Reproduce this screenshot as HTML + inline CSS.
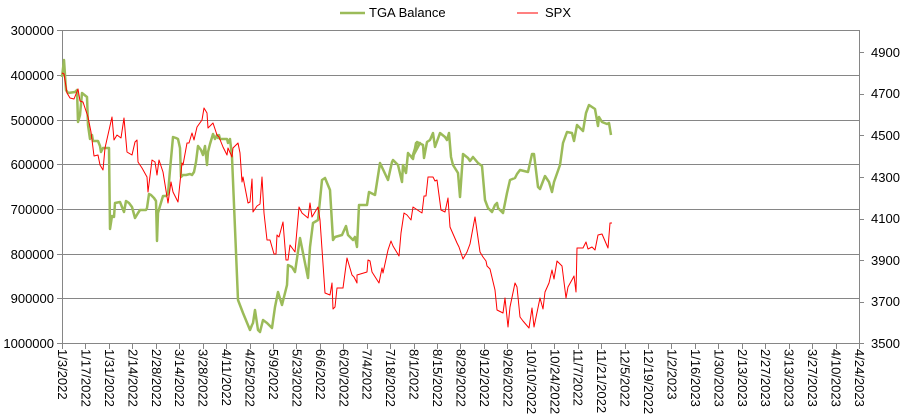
<!DOCTYPE html>
<html><head><meta charset="utf-8"><style>
body{margin:0;background:#fff;}
svg{display:block;font-family:"Liberation Sans",Tahoma,sans-serif;font-size:13px;}
</style></head><body>
<svg width="905" height="414" viewBox="0 0 905 414">
<rect width="905" height="414" fill="#fff"/>
<g stroke="#868686" stroke-width="1" shape-rendering="crispEdges">
<line x1="62" y1="30.5" x2="859" y2="30.5"/>
<line x1="62" y1="75.5" x2="859" y2="75.5"/>
<line x1="62" y1="120.5" x2="859" y2="120.5"/>
<line x1="62" y1="164.5" x2="859" y2="164.5"/>
<line x1="62" y1="209.5" x2="859" y2="209.5"/>
<line x1="62" y1="254.5" x2="859" y2="254.5"/>
<line x1="62" y1="298.5" x2="859" y2="298.5"/>
<line x1="62.5" y1="30" x2="62.5" y2="344"/>
<line x1="859.5" y1="30" x2="859.5" y2="344"/>
<line x1="57" y1="343.5" x2="859" y2="343.5"/>
<line x1="57" y1="30.5" x2="62" y2="30.5"/><line x1="57" y1="75.5" x2="62" y2="75.5"/><line x1="57" y1="120.5" x2="62" y2="120.5"/><line x1="57" y1="164.5" x2="62" y2="164.5"/><line x1="57" y1="209.5" x2="62" y2="209.5"/><line x1="57" y1="254.5" x2="62" y2="254.5"/><line x1="57" y1="298.5" x2="62" y2="298.5"/>
<line x1="859" y1="52.5" x2="864" y2="52.5"/><line x1="859" y1="94.5" x2="864" y2="94.5"/><line x1="859" y1="135.5" x2="864" y2="135.5"/><line x1="859" y1="177.5" x2="864" y2="177.5"/><line x1="859" y1="219.5" x2="864" y2="219.5"/><line x1="859" y1="260.5" x2="864" y2="260.5"/><line x1="859" y1="302.5" x2="864" y2="302.5"/><line x1="859" y1="343.5" x2="864" y2="343.5"/>
<line x1="62.5" y1="344" x2="62.5" y2="349"/><line x1="85.5" y1="344" x2="85.5" y2="349"/><line x1="109.5" y1="344" x2="109.5" y2="349"/><line x1="132.5" y1="344" x2="132.5" y2="349"/><line x1="156.5" y1="344" x2="156.5" y2="349"/><line x1="179.5" y1="344" x2="179.5" y2="349"/><line x1="203.5" y1="344" x2="203.5" y2="349"/><line x1="226.5" y1="344" x2="226.5" y2="349"/><line x1="250.5" y1="344" x2="250.5" y2="349"/><line x1="273.5" y1="344" x2="273.5" y2="349"/><line x1="296.5" y1="344" x2="296.5" y2="349"/><line x1="320.5" y1="344" x2="320.5" y2="349"/><line x1="343.5" y1="344" x2="343.5" y2="349"/><line x1="367.5" y1="344" x2="367.5" y2="349"/><line x1="390.5" y1="344" x2="390.5" y2="349"/><line x1="414.5" y1="344" x2="414.5" y2="349"/><line x1="437.5" y1="344" x2="437.5" y2="349"/><line x1="460.5" y1="344" x2="460.5" y2="349"/><line x1="484.5" y1="344" x2="484.5" y2="349"/><line x1="507.5" y1="344" x2="507.5" y2="349"/><line x1="531.5" y1="344" x2="531.5" y2="349"/><line x1="554.5" y1="344" x2="554.5" y2="349"/><line x1="578.5" y1="344" x2="578.5" y2="349"/><line x1="601.5" y1="344" x2="601.5" y2="349"/><line x1="625.5" y1="344" x2="625.5" y2="349"/><line x1="648.5" y1="344" x2="648.5" y2="349"/><line x1="671.5" y1="344" x2="671.5" y2="349"/><line x1="695.5" y1="344" x2="695.5" y2="349"/><line x1="718.5" y1="344" x2="718.5" y2="349"/><line x1="742.5" y1="344" x2="742.5" y2="349"/><line x1="765.5" y1="344" x2="765.5" y2="349"/><line x1="789.5" y1="344" x2="789.5" y2="349"/><line x1="812.5" y1="344" x2="812.5" y2="349"/><line x1="836.5" y1="344" x2="836.5" y2="349"/><line x1="859.5" y1="344" x2="859.5" y2="349"/>
</g>
<g fill="#000" text-anchor="end">
<text x="54" y="35">300000</text><text x="54" y="80">400000</text><text x="54" y="125">500000</text><text x="54" y="169">600000</text><text x="54" y="214">700000</text><text x="54" y="259">800000</text><text x="54" y="303">900000</text><text x="54" y="348">1000000</text>
</g>
<g fill="#000">
<text x="871" y="57">4900</text><text x="871" y="98">4700</text><text x="871" y="140">4500</text><text x="871" y="182">4300</text><text x="871" y="223">4100</text><text x="871" y="265">3900</text><text x="871" y="306">3700</text><text x="871" y="348">3500</text>
</g>
<g fill="#000">
<text transform="translate(58,349) rotate(90)">1/3/2022</text>
<text transform="translate(81.4,349) rotate(90)">1/17/2022</text>
<text transform="translate(104.9,349) rotate(90)">1/31/2022</text>
<text transform="translate(128.3,349) rotate(90)">2/14/2022</text>
<text transform="translate(151.8,349) rotate(90)">2/28/2022</text>
<text transform="translate(175.2,349) rotate(90)">3/14/2022</text>
<text transform="translate(198.6,349) rotate(90)">3/28/2022</text>
<text transform="translate(222.1,349) rotate(90)">4/11/2022</text>
<text transform="translate(245.5,349) rotate(90)">4/25/2022</text>
<text transform="translate(269,349) rotate(90)">5/9/2022</text>
<text transform="translate(292.4,349) rotate(90)">5/23/2022</text>
<text transform="translate(315.9,349) rotate(90)">6/6/2022</text>
<text transform="translate(339.3,349) rotate(90)">6/20/2022</text>
<text transform="translate(362.7,349) rotate(90)">7/4/2022</text>
<text transform="translate(386.2,349) rotate(90)">7/18/2022</text>
<text transform="translate(409.6,349) rotate(90)">8/1/2022</text>
<text transform="translate(433.1,349) rotate(90)">8/15/2022</text>
<text transform="translate(456.5,349) rotate(90)">8/29/2022</text>
<text transform="translate(479.9,349) rotate(90)">9/12/2022</text>
<text transform="translate(503.4,349) rotate(90)">9/26/2022</text>
<text transform="translate(526.8,349) rotate(90)">10/10/2022</text>
<text transform="translate(550.3,349) rotate(90)">10/24/2022</text>
<text transform="translate(573.7,349) rotate(90)">11/7/2022</text>
<text transform="translate(597.2,349) rotate(90)">11/21/2022</text>
<text transform="translate(620.6,349) rotate(90)">12/5/2022</text>
<text transform="translate(644,349) rotate(90)">12/19/2022</text>
<text transform="translate(667.5,349) rotate(90)">1/2/2023</text>
<text transform="translate(690.9,349) rotate(90)">1/16/2023</text>
<text transform="translate(714.4,349) rotate(90)">1/30/2023</text>
<text transform="translate(737.8,349) rotate(90)">2/13/2023</text>
<text transform="translate(761.2,349) rotate(90)">2/27/2023</text>
<text transform="translate(784.7,349) rotate(90)">3/13/2023</text>
<text transform="translate(808.1,349) rotate(90)">3/27/2023</text>
<text transform="translate(831.6,349) rotate(90)">4/10/2023</text>
<text transform="translate(855,349) rotate(90)">4/24/2023</text>
</g>
<line x1="340" y1="13" x2="365" y2="13" stroke="#9bbb59" stroke-width="2.5"/>
<text x="369" y="17">TGA Balance</text>
<line x1="517" y1="13" x2="538" y2="13" stroke="#ff0000" stroke-width="1"/>
<text x="545" y="17">SPX</text>
<polyline fill="none" stroke="#9bbb59" stroke-width="2.5" stroke-linejoin="round" points="62,77 64,60 66,90 68,93 75,92 77,90 78,122 80,115 82,93 87,97 88,125 90,139 92,135 93,141 98,141 100,146 101,152 103,148 109,148 110,229 112,216 114,217 115,203 120,202 124,212 126,201 129,203 132,207 135,218 138,213 140,210 146,210 147,208 149,194 151,195 154,198 156,201 157,241 158,213 160,206 163,196 166,196 168,194 170,170 173,137 176,138 178,139 180,148 181,177 183,175 186,175 190,174 192,175 194,172 196,162 198,146 201,150 203,155 205,146 207,165 208,152 210,144 213,134 215,139 217,135 218,138 219,135 220,139 227,139 228,143 230,139 232,157 238,300 243,313 250,330 252,325 253,323 255,310 258,330 260,332 263,320 267,323 272,328 275,307 278,292 282,305 287,285 288,265 292,267 295,272 300,238 303,253 308,278 310,247 313,223 318,220 322,180 325,178 330,190 333,240 335,237 342,235 346,226 348,235 353,240 355,237 357,247 359,205 367,205 369,192 375,195 380,163 388,180 392,162 393,160 398,165 402,182 403,165 406,173 408,153 413,159 416,143 420,143 412,158 417,142 423,145 424,158 427,142 430,140 433,133 435,147 440,133 445,137 447,140 449,133 451,157 453,165 458,173 460,197 463,154 468,158 470,161 473,157 478,163 482,166 485,200 488,208 492,212 495,205 497,203 498,208 503,213 507,193 510,180 515,178 517,174 520,170 528,172 532,154 534,154 538,187 540,189 545,176 549,182 552,192 554,182 560,165 563,143 567,132 572,133 574,141 577,125 583,131 586,113 589,105 595,109 598,126 599,117 602,122 607,124 609,123 611,135"/>
<polyline fill="none" stroke="#ff0000" stroke-width="1" stroke-linejoin="round" points="62,73 64,74 67,93 70,98 74,99 78,89 80,101 83,102 88,117 91,132 94,156 98,155 100,165 103,170 105,148 112,117 114,140 117,135 121,138 124,118 127,152 132,155 135,142 137,140 138,162 142,168 147,177 148,192 152,160 155,162 157,175 159,160 163,172 168,203 171,182 173,192 178,202 182,163 183,165 187,143 189,143 192,133 194,140 197,127 202,120 204,108 207,113 208,128 213,123 217,135 219,137 223,147 227,155 228,148 232,157 233,148 238,143 240,153 242,182 243,177 248,203 250,202 252,179 253,212 257,206 260,204 262,177 264,213 267,240 270,240 274,254 276,254 277,235 279,237 283,222 286,260 288,260 290,245 295,252 299,207 302,213 308,218 310,203 312,217 318,207 320,220 325,293 330,295 332,283 333,309 335,307 337,288 343,288 347,258 352,275 354,277 357,283 357,275 367,272 368,260 370,261 372,272 379,283 382,268 383,273 388,250 391,241 393,246 399,256 401,233 404,213 407,215 411,220 413,207 422,213 424,196 426,196 428,177 433,177 435,181 437,180 441,210 445,212 448,198 450,227 457,243 459,247 463,259 467,252 470,244 475,217 480,252 483,257 486,261 487,266 490,269 495,290 497,310 503,313 505,298 508,327 510,307 515,283 517,287 520,317 523,321 529,328 532,308 534,327 540,298 543,309 545,292 549,283 552,270 554,279 557,261 562,266 566,298 568,287 573,278 574,276 576,292 577,248 583,248 586,242 588,249 592,247 595,250 598,235 602,234 608,248 610,223 612,223"/>
</svg>
</body></html>
